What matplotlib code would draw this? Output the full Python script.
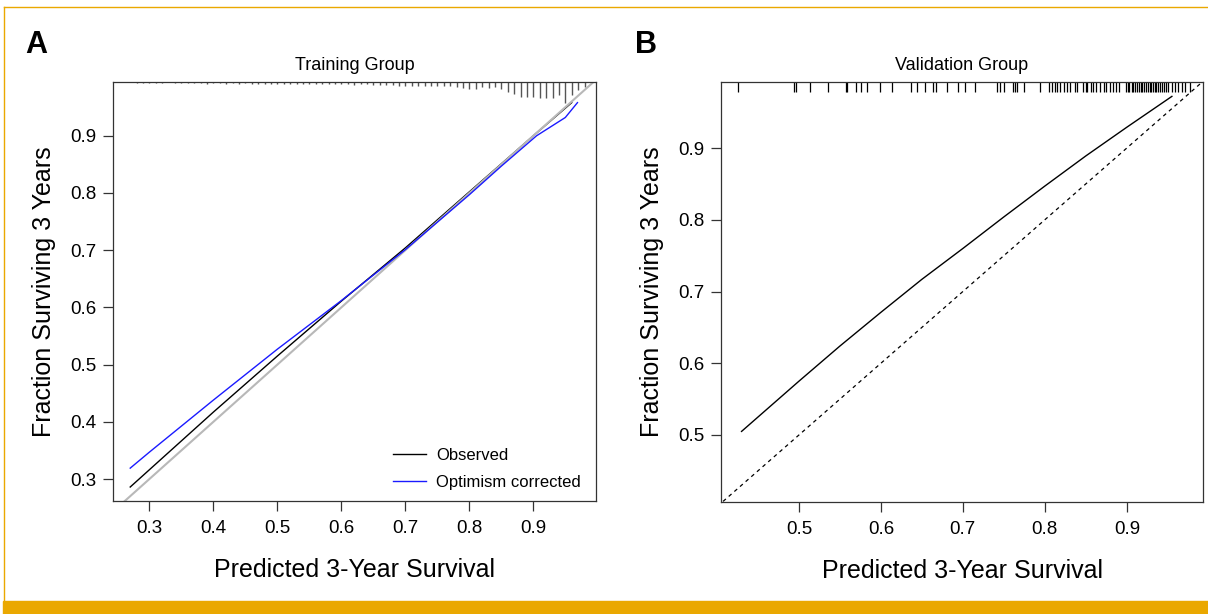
import matplotlib
matplotlib.use("Agg")
import matplotlib.pyplot as plt
import matplotlib.transforms as mtransforms
from matplotlib.lines import Line2D
from matplotlib.patches import Rectangle

# ---- panel A: training group ----
pred_a = [0.27, 0.40, 0.50, 0.60, 0.70, 0.80, 0.85, 0.90, 0.93, 0.96]
obs_a = [0.286, 0.417, 0.515, 0.611, 0.704, 0.802, 0.851, 0.900, 0.929, 0.958]
pred_a_corr = [0.27, 0.30, 0.40, 0.50, 0.60, 0.70, 0.80, 0.85, 0.905, 0.95, 0.969]
corr_a = [0.319, 0.347, 0.438, 0.527, 0.612, 0.701, 0.797, 0.847, 0.900, 0.932, 0.958]

rug_a_x = [0.28, 0.29, 0.30, 0.31, 0.32, 0.34, 0.35, 0.36, 0.37, 0.38, 0.39, 0.40,
           0.41, 0.42, 0.43, 0.44, 0.45, 0.46, 0.47, 0.48, 0.49, 0.50, 0.51, 0.52,
           0.53, 0.54, 0.55, 0.56, 0.57, 0.58, 0.59, 0.60, 0.61, 0.62, 0.63, 0.64,
           0.65, 0.66, 0.67, 0.68, 0.69, 0.70, 0.71, 0.72, 0.73, 0.74, 0.75, 0.76,
           0.77, 0.78, 0.79, 0.80, 0.81, 0.82, 0.83, 0.84, 0.85, 0.86, 0.87, 0.88,
           0.89, 0.90, 0.91, 0.92, 0.93, 0.94, 0.95, 0.96, 0.97, 0.98]
rug_a_n = [1, 1, 1, 1, 1, 1, 1, 1, 1, 1, 1.5, 1,
           1, 1.5, 1, 1.5, 1, 1.5, 2, 1.5, 2, 1.5, 2, 1.5,
           2, 1.5, 2, 2, 1.5, 2, 1.5, 2, 1.5, 2.5, 1.5, 2,
           2.5, 3, 3, 2.5, 3.5, 3.5, 3.5, 4, 3.5, 4, 4, 4,
           4, 5, 6, 6.5, 6.5, 5, 6, 5, 7, 10, 12, 15,
           15, 15, 16, 16, 16, 13, 21, 13, 8, 5]

# ---- panel B: validation group ----
pred_b = [0.43, 0.50, 0.55, 0.60, 0.65, 0.70, 0.75, 0.80, 0.85, 0.90, 0.955]
obs_b = [0.505, 0.575, 0.624, 0.671, 0.717, 0.760, 0.804, 0.847, 0.889, 0.929, 0.972]

rug_b_x = [0.426, 0.494, 0.497, 0.514, 0.536, 0.557, 0.559, 0.570, 0.576, 0.583,
           0.599, 0.614, 0.637, 0.644, 0.654, 0.664, 0.667, 0.681, 0.694,
           0.702, 0.715, 0.742, 0.745, 0.750, 0.761, 0.763, 0.766, 0.774, 0.794,
           0.805, 0.809, 0.812, 0.815, 0.818, 0.823, 0.827, 0.831, 0.837, 0.839,
           0.847, 0.850, 0.852, 0.856, 0.859, 0.863, 0.867, 0.872, 0.875, 0.879,
           0.883, 0.887, 0.890, 0.899, 0.901, 0.903, 0.906, 0.908, 0.910, 0.912,
           0.915, 0.917, 0.919, 0.921, 0.924, 0.926, 0.928, 0.930, 0.932, 0.934,
           0.936, 0.938, 0.940, 0.943, 0.945, 0.948, 0.950, 0.955, 0.959, 0.963,
           0.967, 0.971, 0.977]

xt_a = [0.3, 0.4, 0.5, 0.6, 0.7, 0.8, 0.9]
yt_a = [0.3, 0.4, 0.5, 0.6, 0.7, 0.8, 0.9]
xt_b = [0.5, 0.6, 0.7, 0.8, 0.9]
yt_b = [0.5, 0.6, 0.7, 0.8, 0.9]

plt.rcParams['font.family'] = ['Liberation Sans', 'DejaVu Sans']
narrow = ['Liberation Sans Narrow', 'Liberation Sans', 'DejaVu Sans']

fig = plt.figure(figsize=(12.08, 6.14), dpi=100)
ax1 = fig.add_axes([0.0935, 0.184, 0.3999, 0.6824])
ax2 = fig.add_axes([0.5969, 0.1824, 0.399, 0.684])

for ax in (ax1, ax2):
    for s in ax.spines.values():
        s.set_linewidth(0.9)
        s.set_color('#333333')
    ax.tick_params(direction='out', length=7, width=0.9, color='#333333',
                   labelsize=13.5)
    ax.tick_params(axis='x', pad=7)
    ax.tick_params(axis='y', pad=5)
    ax.set_xlabel('Predicted 3-Year Survival', family=narrow, fontsize=18, labelpad=15)
    ax.set_ylabel('Fraction Surviving 3 Years', family=narrow, fontsize=18, labelpad=10)

# panel A
ax1.set_xlim(0.243, 0.998)
ax1.set_ylim(0.2615, 0.994)
ax1.plot(pred_a, obs_a, color='black', lw=1.0, zorder=2)
ax1.plot([0, 1], [0, 1], color='#b8b8b8', lw=1.5, zorder=2.5)
ax1.plot(pred_a_corr, corr_a, color='#1a1aff', lw=1.0, zorder=3)
tr1 = mtransforms.blended_transform_factory(ax1.transData, ax1.transAxes)
ax1.vlines(rug_a_x, [1 - n * 0.0024 for n in rug_a_n], 1, transform=tr1,
           color='#555555', lw=1.0)
ax1.set_xticks(xt_a)
ax1.set_yticks(yt_a)
ax1.set_title('Training Group', fontsize=13, pad=9)
ax1.legend(handles=[Line2D([], [], color='black', lw=1),
                    Line2D([], [], color='#1a1aff', lw=1)],
           labels=['Observed', 'Optimism corrected'], loc='lower right',
           frameon=False, fontsize=12, handlelength=2.0, handletextpad=0.6,
           labelspacing=0.75, bbox_to_anchor=(1.0, -0.01))

# panel B
ax2.set_xlim(0.405, 0.993)
ax2.set_ylim(0.4066, 0.992)
ax2.plot([0, 1], [0, 1], color='black', lw=0.9, ls=(0, (3, 3)))
ax2.plot(pred_b, obs_b, color='black', lw=1.0)
tr2 = mtransforms.blended_transform_factory(ax2.transData, ax2.transAxes)
ax2.vlines(rug_b_x, 1 - 0.023, 1, transform=tr2, color='black', lw=0.9)
ax2.set_xticks(xt_b)
ax2.set_yticks(yt_b)
ax2.set_title('Validation Group', fontsize=13, pad=9)

fig.text(0.021, 0.913, 'A', fontsize=22, fontweight='bold')
fig.text(0.526, 0.913, 'B', fontsize=22, fontweight='bold')

# orange frame
gold = '#eaa800'
fig.patches.append(Rectangle((0.0025, 0.0), 0.9975, 0.0212, transform=fig.transFigure,
                             color=gold, zorder=0))
fig.add_artist(Line2D([0.003, 1.0], [0.9886, 0.9886], transform=fig.transFigure,
                      color=gold, lw=1.0))
fig.add_artist(Line2D([0.003, 0.003], [0.0212, 0.9886], transform=fig.transFigure,
                      color=gold, lw=1.0))

fig.savefig('out.png', dpi=100)
